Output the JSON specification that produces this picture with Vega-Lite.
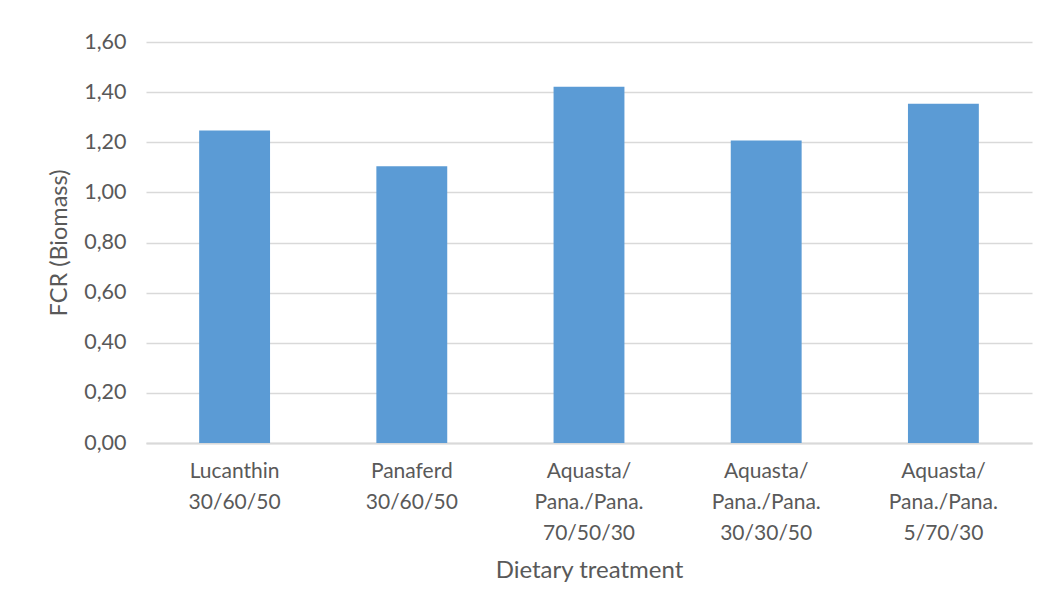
{
  "$schema": "https://vega.github.io/schema/vega-lite/v6.json",
  "width": 886,
  "height": 401,
  "autosize": {"type": "none"},
  "padding": {"left": 146, "top": 42, "right": 19, "bottom": 172},
  "background": "white",
  "data": {
    "values": [
      {"treatment": "Lucanthin|30/60/50", "fcr": 1.247},
      {"treatment": "Panaferd|30/60/50", "fcr": 1.104},
      {"treatment": "Aquasta/|Pana./Pana.|70/50/30", "fcr": 1.421},
      {"treatment": "Aquasta/|Pana./Pana.|30/30/50", "fcr": 1.207},
      {"treatment": "Aquasta/|Pana./Pana.|5/70/30", "fcr": 1.354}
    ]
  },
  "config": {
    "view": {"stroke": null},
    "font": "Lato",
    "axis": {
      "labelFont": "Lato",
      "titleFont": "Lato",
      "labelColor": "#595959",
      "titleColor": "#595959",
      "titleFontWeight": "normal",
      "gridColor": "#d9d9d9",
      "gridWidth": 1.5,
      "ticks": false
    }
  },
  "mark": {"type": "bar", "color": "#5b9bd5"},
  "encoding": {
    "x": {
      "field": "treatment",
      "type": "nominal",
      "sort": null,
      "scale": {"paddingInner": 0.6, "paddingOuter": 0.3},
      "axis": {
        "title": "Dietary treatment",
        "titleFontSize": 24,
        "titlePadding": 15,
        "labelAngle": 0,
        "labelFontSize": 21,
        "labelLineHeight": 31,
        "labelPadding": 17,
        "labelExpr": "split(datum.label, '|')",
        "domainColor": "#d9d9d9",
        "domainWidth": 2,
        "grid": false
      }
    },
    "y": {
      "field": "fcr",
      "type": "quantitative",
      "scale": {"domain": [0, 1.6], "nice": false},
      "axis": {
        "title": "FCR (Biomass)",
        "titleFontSize": 23.5,
        "titlePadding": 12,
        "labelFontSize": 21.5,
        "labelPadding": 20,
        "values": [0, 0.2, 0.4, 0.6, 0.8, 1.0, 1.2, 1.4, 1.6],
        "labelExpr": "replace(format(datum.value, '.2f'), '.', ',')",
        "domain": false,
        "grid": true
      }
    }
  }
}
